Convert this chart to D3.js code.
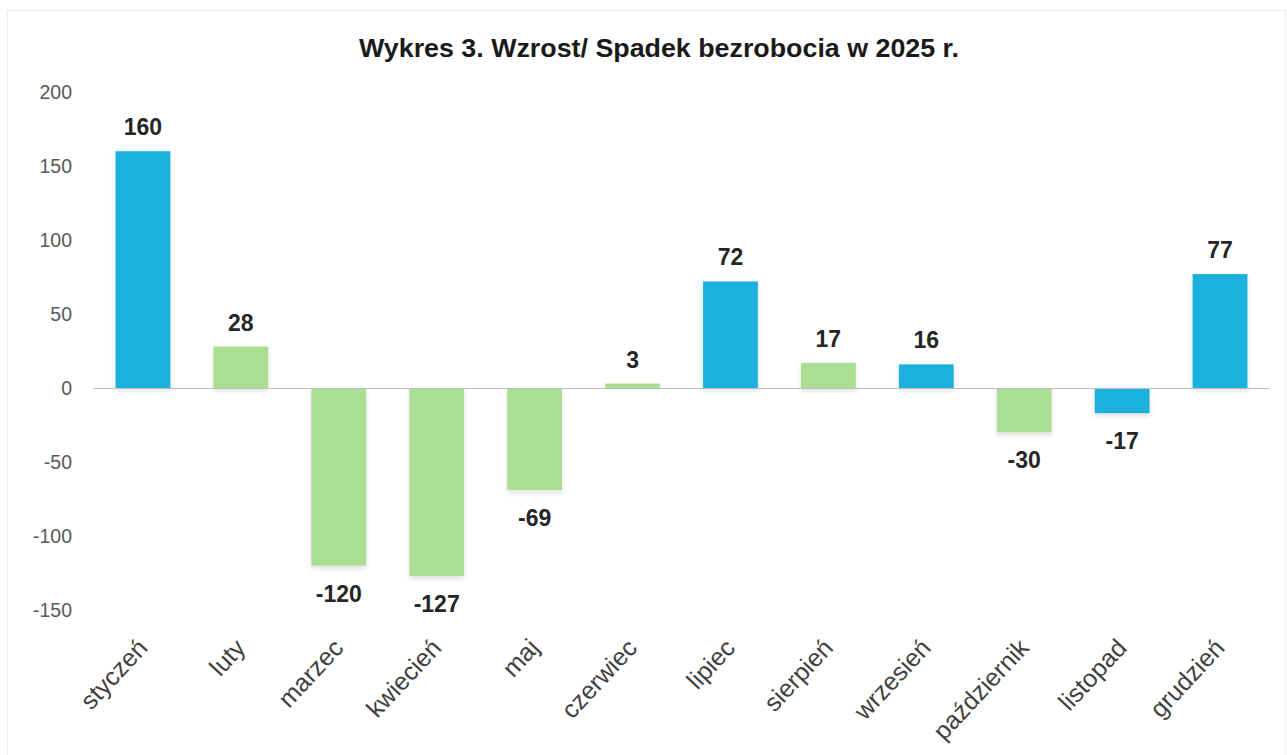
<html>
<head>
<meta charset="utf-8"/>
<script src="https://d3js.org/d3.v7.min.js"></script>
</head>
<body style="margin:0;background:#fff">
<div id="v"></div>
<script type="text/javascript">
// dane: zmiana liczby bezrobotnych w kolejnych miesiącach
var months = ["styczeń","luty","marzec","kwiecień","maj","czerwiec","lipiec","sierpień","wrzesień","październik","listopad","grudzień"];
var values = [160, 28, -120, -127, -69, 3, 72, 17, 16, -30, -17, 77];
var group  = ["b","g","g","g","g","g","b","g","b","g","b","b"];
var yTicks = [200, 150, 100, 50, 0, -50, -100, -150];
var title = "Wykres 3. Wzrost/ Spadek bezrobocia w 2025 r.";

(function() {
  var width = 1287, height = 755;
  var colors = {b: "#1eb1dd", g: "#a9de93"};

  var svg = d3.select("#v").append("svg")
    .attr("width", width)
    .attr("height", height)
    .style("display", "block");

  var defs = svg.append("defs");
  var f = defs.append("filter").attr("id", "sh")
    .attr("x", "-20%").attr("y", "-20%").attr("width", "140%").attr("height", "140%");
  f.append("feDropShadow").attr("dx", 0).attr("dy", 3).attr("stdDeviation", 2.5)
    .attr("flood-color", "#000").attr("flood-opacity", 0.12);

  // faint frame of the scanned chart
  svg.append("rect")
    .attr("x", 7.5).attr("y", 10.5)
    .attr("width", 1278).attr("height", 760)
    .attr("fill", "none").attr("stroke", "#ececec");

  var x = d3.scaleBand().domain(months).range([94, 1269]).paddingInner(0.44).paddingOuter(0.22);
  var y = d3.scaleLinear().domain([-150, 200]).range([610, 92]);

  svg.append("text")
    .attr("x", 659).attr("y", 57)
    .attr("text-anchor", "middle")
    .attr("textLength", 600).attr("lengthAdjust", "spacingAndGlyphs")
    .style("font-family", "'Liberation Sans Narrow','Liberation Sans',Arial,sans-serif")
    .style("font-weight", "bold").style("font-size", "25px")
    .attr("fill", "#1a1a1a")
    .text(title);

  // y axis labels (no line, no ticks)
  var yAxis = d3.axisLeft(y).tickValues(yTicks).tickSize(0).tickPadding(0).tickFormat(String);
  var ya = svg.append("g").attr("transform", "translate(72,0)").call(yAxis);
  ya.select(".domain").remove();
  ya.selectAll("text")
    .style("font-family", "'Liberation Sans',Arial,sans-serif")
    .style("font-size", "19.5px")
    .attr("fill", "#595959");

  var g = svg.append("g");
  g.selectAll(".bar")
    .data(values).enter()
    .append("rect")
    .attr("class", "bar")
    .attr("x", function(d, i) { return x(months[i]); })
    .attr("width", x.bandwidth())
    .attr("y", function(d) { return y(Math.max(0, d)); })
    .attr("height", function(d) { return Math.abs(y(d) - y(0)); })
    .attr("fill", function(d, i) { return colors[group[i]]; })
    .attr("filter", "url(#sh)");

  svg.append("line")
    .attr("x1", 93).attr("x2", 1270)
    .attr("y1", y(0) + 0.5).attr("y2", y(0) + 0.5)
    .attr("stroke", "#bfbfbf").attr("stroke-width", 1);

  g.selectAll(".val")
    .data(values).enter()
    .append("text")
    .attr("class", "val")
    .attr("x", function(d, i) { return x(months[i]) + x.bandwidth() / 2; })
    .attr("y", function(d) { return d >= 0 ? y(d) - 16 : y(d) + 36; })
    .attr("text-anchor", "middle")
    .style("font-family", "'Liberation Sans',Arial,sans-serif")
    .style("font-weight", "bold").style("font-size", "23px")
    .attr("fill", "#262626")
    .text(function(d) { return d; });

  // category labels rotated -45
  var xAxis = d3.axisBottom(x).tickSize(0).tickPadding(0);
  var xa = svg.append("g").call(xAxis);
  xa.select(".domain").remove();
  xa.selectAll(".tick").attr("transform", null);
  xa.selectAll("text")
    .attr("y", 0).attr("dy", 0).attr("x", 0)
    .attr("text-anchor", "end")
    .attr("transform", function(d) { return "translate(" + (x(d) + x.bandwidth() / 2 + 6) + ",649) rotate(-47)"; })
    .style("font-family", "'Liberation Sans',Arial,sans-serif")
    .style("font-size", "25px")
    .attr("fill", "#404040");
})();
</script>
</body>
</html>
